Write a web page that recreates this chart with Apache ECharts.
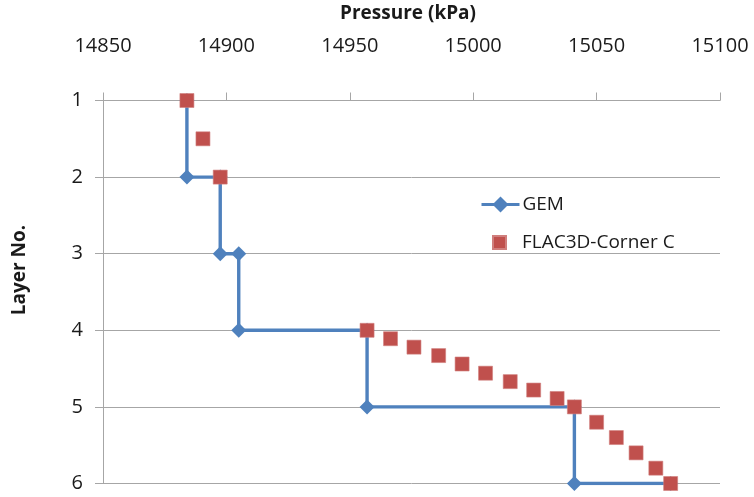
<!DOCTYPE html>
<html>
<head>
<meta charset="utf-8">
<script src="https://cdn.jsdelivr.net/npm/echarts@6/dist/echarts.min.js"></script>
<style>
  html, body { margin: 0; padding: 0; background: #fff; }
  #chart { width: 754px; height: 497px; }
</style>
</head>
<body>
<div id="chart"></div>
<script>
// Pressure by layer: GEM step profile and FLAC3D corner C samples
const gemPressure = [14884, 14884, 14897.5, 14897.5, 14905, 14905, 14957, 14957, 15041, 15041, 15080];
const gemLayer    = [1, 2, 2, 3, 3, 4, 4, 5, 5, 6, 6];

const flacPressure = [14884, 14890.5, 14897.5,
  14957, 14966.5, 14976, 14986, 14995.5, 15005, 15015, 15024.5, 15034, 15041,
  15050, 15058, 15066, 15074, 15080];
const flacLayer = [1, 1.5, 2,
  4, 4.11, 4.22, 4.33, 4.44, 4.56, 4.67, 4.78, 4.89, 5,
  5.2, 5.4, 5.6, 5.8, 6];

const pressureTicks = { min: 14850, max: 15100, interval: 50 };
const layerTicks = { min: 1, max: 6, interval: 1 };

const FONT = '"Open Sans", "Liberation Sans", sans-serif';
const GRID_GRAY = '#a6a6a6';
const TEXT = '#1a1a1a';
const BLUE = '#4F81BD';
const RED = '#C0504D';

const chart = echarts.init(document.getElementById('chart'), null, { renderer: 'canvas' });

chart.setOption({
  animation: false,
  backgroundColor: '#ffffff',
  grid: { left: 103, right: 34, top: 100.5, bottom: 13.5, containLabel: false, outerBoundsMode: 'none' },
  graphic: [
    {
      type: 'text',
      x: 408, y: 14,
      style: {
        text: 'Pressure (kPa)', fontFamily: FONT, fontSize: 19, fontWeight: 'bold',
        fill: TEXT, align: 'center', verticalAlign: 'middle'
      }
    },
    {
      type: 'text',
      x: 20, y: 270,
      rotation: Math.PI / 2,
      style: {
        text: 'Layer No.', fontFamily: FONT, fontSize: 19, fontWeight: 'bold',
        fill: TEXT, align: 'center', verticalAlign: 'middle'
      }
    }
  ],
  legend: [
    {
      orient: 'vertical',
      left: 480,
      top: 195,
      padding: 0,
      itemWidth: 38,
      itemHeight: 20,
      lineStyle: { width: 3 },
      textStyle: { fontFamily: FONT, fontSize: 19, color: TEXT, padding: [0, 0, 0, -2] },
      data: ['GEM']
    },
    {
      orient: 'vertical',
      left: 492,
      top: 233,
      padding: 0,
      itemWidth: 13,
      itemHeight: 13,
      textStyle: { fontFamily: FONT, fontSize: 19, color: TEXT, padding: [0, 0, 0, 11] },
      data: [{ name: 'FLAC3D-Corner C', icon: 'rect' }]
    }
  ],
  xAxis: {
    type: 'value',
    position: 'top',
    min: pressureTicks.min,
    max: pressureTicks.max,
    interval: pressureTicks.interval,
    axisLine: { show: true, lineStyle: { color: GRID_GRAY, width: 1 } },
    axisTick: { show: true, inside: false, length: 8, lineStyle: { color: GRID_GRAY } },
    axisLabel: {
      fontFamily: FONT, fontSize: 20, color: TEXT, margin: 44,
      formatter: v => String(v)
    },
    splitLine: { show: false }
  },
  yAxis: {
    type: 'value',
    inverse: true,
    min: layerTicks.min,
    max: layerTicks.max,
    interval: layerTicks.interval,
    axisLine: { show: true, lineStyle: { color: GRID_GRAY, width: 1 } },
    axisTick: { show: true, inside: false, length: 8, lineStyle: { color: GRID_GRAY } },
    axisLabel: { fontFamily: FONT, fontSize: 20, color: TEXT, margin: 20, formatter: v => String(v) },
    splitLine: { show: true, lineStyle: { color: GRID_GRAY, width: 1 } }
  },
  series: [
    {
      name: 'GEM',
      type: 'line',
      data: gemPressure.map((p, i) => [p, gemLayer[i]]),
      symbol: 'diamond',
      symbolSize: 15,
      showAllSymbol: true,
      color: BLUE,
      lineStyle: { color: BLUE, width: 3.4 },
      itemStyle: { color: BLUE },
      z: 2
    },
    {
      name: 'FLAC3D-Corner C',
      type: 'scatter',
      data: flacPressure.map((p, i) => [p, flacLayer[i]]),
      symbol: 'rect',
      symbolSize: 14,
      color: RED,
      itemStyle: { color: RED, opacity: 1, borderColor: '#d07f7d', borderWidth: 0.6 },
      z: 3
    }
  ]
});
</script>
</body>
</html>
